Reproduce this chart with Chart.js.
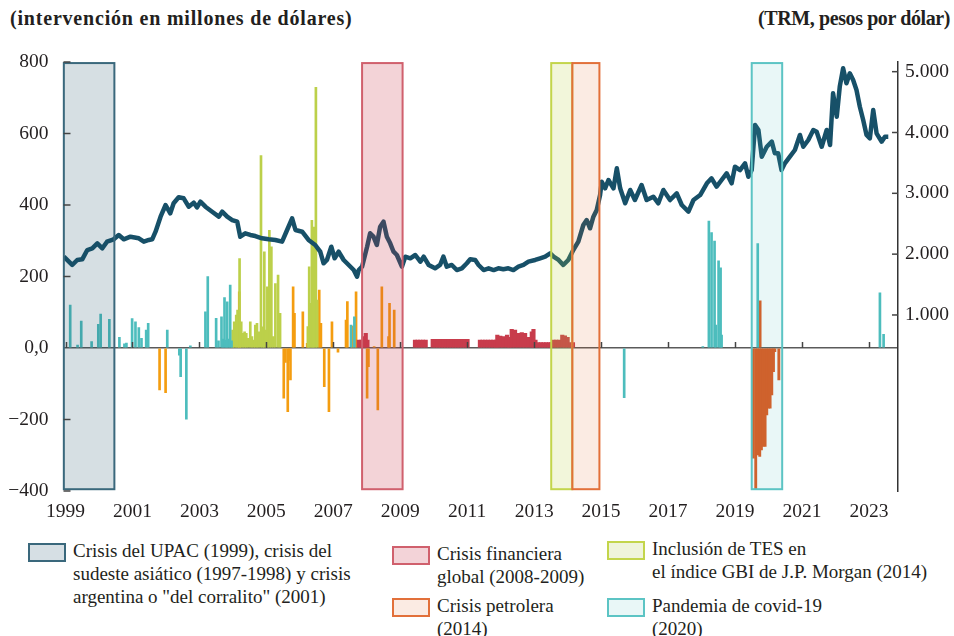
<!DOCTYPE html>
<html><head><meta charset="utf-8">
<script src="https://cdn.jsdelivr.net/npm/chart.js@4.4.0/dist/chart.umd.min.js"></script>
<style>
body{margin:0;background:#fff;width:954px;height:636px;overflow:hidden;position:relative;font-family:'Liberation Serif',serif;color:#231f20}
#c{position:absolute;left:0;top:0}
.t{position:absolute;font-weight:bold;font-size:20px;line-height:24px;white-space:nowrap}
.sw{position:absolute;width:34px;height:15px;border:2px solid}
.lt{position:absolute;font-size:19px;line-height:23px;white-space:pre}
</style></head><body>
<div class="t" style="left:10px;top:6px;letter-spacing:0.8px">(intervención en millones de dólares)</div>
<div class="t" style="right:4px;top:6px;letter-spacing:-0.4px">(TRM, pesos por dólar)</div>
<canvas id="c" width="954" height="530"></canvas>
<div id="legend"></div>
<script>
// ---------- DATA ----------
const xTickYears = [1999,2001,2003,2005,2007,2009,2011,2013,2015,2017,2019,2021,2023];
const leftTicks = [-400,-200,0,200,400,600,800];
const rightTicks = [1000,2000,3000,4000,5000];

// TRM (pesos por dólar)
const trmYears = [
1998.95,1999.20,1999.35,1999.50,1999.65,1999.80,1999.95,2000.10,2000.24,2000.44,2000.59,2000.74,2000.94,2001.19,2001.34,2001.49,2001.59,2001.69,2001.84,2001.99,
2002.13,2002.23,2002.38,2002.53,2002.68,2002.83,2002.93,2003.03,2003.18,2003.38,2003.58,2003.68,2003.83,2003.98,2004.13,2004.22,2004.37,2004.52,2004.67,2004.87,
2005.07,2005.27,2005.47,2005.62,2005.77,2005.87,2006.07,2006.26,2006.46,2006.61,2006.71,2006.81,2006.94,2007.04,2007.16,2007.31,2007.46,2007.61,2007.71,
2007.76,2007.86,2008.01,2008.10,2008.20,2008.30,2008.40,2008.50,2008.60,2008.70,2008.80,2008.90,2009.05,2009.15,2009.30,2009.45,2009.60,2009.70,2009.85,2010.04,
2010.19,2010.29,2010.39,2010.54,2010.69,2010.84,2010.99,2011.09,2011.24,2011.34,2011.49,2011.64,2011.79,2011.93,2012.08,2012.23,2012.38,2012.53,2012.68,2012.83,
2013.03,2013.18,2013.33,2013.48,2013.58,2013.73,2013.87,2014.02,2014.17,2014.32,2014.47,2014.57,2014.67,2014.77,2014.87,2014.97,2015.02,2015.12,2015.22,2015.37,
2015.47,2015.57,2015.72,2015.87,2016.01,2016.21,2016.36,2016.56,2016.71,2016.86,2017.06,2017.26,2017.41,2017.61,2017.76,2017.96,2018.16,2018.30,2018.45,2018.60,
2018.75,2018.90,2019.00,2019.15,2019.30,2019.40,2019.50,2019.60,2019.70,2019.80,2019.95,2020.10,2020.19,2020.29,2020.39,2020.49,2020.64,2020.79,2020.94,2021.04,
2021.19,2021.34,2021.44,2021.59,2021.74,2021.84,2021.93,2022.04,2022.13,2022.23,2022.33,2022.43,2022.53,2022.63,2022.73,2022.83,2022.93,2023.03,2023.13,2023.23,
2023.38,2023.48,2023.58];
const trmValues = [
1958,1822,1904,1915,2068,2096,2178,2096,2205,2244,2315,2244,2287,2261,2205,2233,2244,2369,2616,2808,
2672,2836,2935,2918,2780,2846,2770,2862,2780,2698,2616,2698,2616,2561,2533,2287,2343,2315,2298,2261,
2244,2233,2205,2397,2589,2397,2369,2233,2150,2040,1850,1904,2122,1932,2040,1904,1822,1739,1629,
1739,1794,2122,2343,2287,2150,2451,2533,2287,2178,2040,1986,1794,1958,1932,1986,1876,1958,1822,1767,
1822,1958,1794,1822,1739,1767,1850,1915,1904,1822,1739,1767,1739,1767,1751,1767,1739,1794,1822,1876,
1904,1932,1958,2014,1958,1904,1822,1904,2068,2205,2479,2561,2425,2616,2726,2972,3191,3082,3219,3082,
3411,3082,2836,3055,2890,3137,2890,2944,2836,3055,2890,3000,2808,2698,2890,2972,3165,3247,3109,3219,
3329,3165,3438,3383,3493,3273,3383,4123,4041,3602,3766,3849,3658,3658,3383,3493,3602,3712,3959,3766,
3877,4041,4013,3766,4041,3794,4644,4260,4753,5055,4809,4973,4863,4698,4424,4205,3959,3904,4370,3987,
3849,3931,3931];

// Intervention (millones de dólares)
const tealYears = [1999.14,1999.36,1999.47,1999.78,1999.98,2000.05,2000.31,2000.61,2000.76,2000.82,2000.99,2001.09,2001.19,2001.27,2001.41,2001.47,2002.04,
2002.40,2002.44,2002.61,2002.73,2003.18,2003.25,2003.50,2003.57,2003.66,2003.70,2003.75,2003.79,2003.83,2003.87,2003.92,2003.96,
2007.53,2007.63,2015.69,2018.04,2018.22,2018.30,2018.39,2018.43,2018.51,2018.57,2018.60,2019.68,2023.33,2023.44];
const tealValues = [120,8,75,18,66,95,80,30,12,14,82,73,57,27,50,69,50,
-20,-80,-199,6,101,200,83,20,87,25,141,22,129,25,176,20,
64,87,-139,4,355,323,299,64,244,224,36,292,154,38];

const greenYears = [2003.99,2004.04,2004.10,2004.14,2004.20,2004.25,2004.30,2004.35,2004.40,2004.45,2004.52,2004.57,2004.62,2004.67,2004.72,2004.77,2004.84,2004.89,2004.94,2004.99,
2005.03,2005.09,2005.15,2005.21,2005.27,2005.35,2005.41,
2006.24,2006.28,2006.32,2006.36,2006.40,2006.43,2006.48,2006.52];
const greenValues = [50,73,92,106,250,73,41,45,41,27,73,32,22,64,69,45,538,59,269,50,
171,329,283,32,180,204,97,
60,227,125,357,170,338,729,134];

const orangeYears = [2001.81,2001.99,2004.19,2005.52,2005.57,2005.64,2005.69,2005.72,2005.80,2005.84,2006.09,2006.22,2006.58,2006.63,2006.73,2006.87,2006.96,
2007.14,2007.38,2007.42,2007.57,2007.68,2008.01,2008.05,2008.22,2008.33,2008.45,2008.65,2008.68,2008.82];
const orangeValues = [-117,-125,157,-140,-40,-178,-35,-89,171,97,101,13,162,69,-108,-178,73,
-12,78,130,61,157,-140,-52,4,-173,171,32,125,106];

const crimsonYears = [2007.76,2007.84,2007.91,2007.97,2008.02,
2009.44,2009.52,2009.60,2009.68,2009.76,
2009.97,2010.05,2010.13,2010.21,2010.29,2010.37,2010.45,2010.53,2010.61,2010.69,2010.77,2010.85,2010.93,2011.01,
2011.38,2011.46,2011.54,2011.62,2011.70,2011.78,2011.86,
2011.90,2011.99,2012.08,2012.19,2012.26,2012.33,2012.43,2012.53,2012.63,2012.73,2012.83,2012.93,2012.98,2013.04,
2013.12,2013.20,2013.28,2013.36,2013.44,2013.51,
2013.58,2013.66,2013.74,2013.84,2013.92,2014.00,2014.08,2014.16];
const crimsonValues = [22,22,32,41,22,
22,22,22,22,22,
24,24,24,24,24,24,24,24,24,24,24,24,24,24,
22,22,22,22,22,22,22,
36,33,32,36,30,52,50,41,43,41,30,45,52,22,
15,15,15,15,15,15,
22,22,22,36,34,30,15,15];

const covidYears = [2019.55,2019.62,2019.68,2019.74,2019.75,2019.79,2019.84,2019.90,2019.95,2020.00,2020.05,2020.10,2020.15,2020.19,2020.31];
const covidValues = [-308,-396,-299,-303,132,-285,-275,-275,-187,-168,-168,-131,-66,-10,-89];

// Crisis periods
const crisisLabels = ['Crisis del UPAC (1999), crisis del\nsudeste asiático (1997-1998) y crisis\nargentina o "del corralito" (2001)',
  'Crisis financiera\nglobal (2008-2009)',
  'Inclusión de TES en\nel índice GBI de J.P. Morgan (2014)',
  'Crisis petrolera\n(2014)',
  'Pandemia de covid-19\n(2020)'];
const crisisStart = [1998.95, 2007.86, 2013.51, 2014.14, 2019.50];
const crisisEnd   = [2000.46, 2009.07, 2014.14, 2014.95, 2020.41];

// ---------- STYLES ----------
const crisisFill   = ['rgba(29,79,99,0.18)','rgba(200,55,74,0.22)','rgba(185,207,60,0.19)','rgba(224,101,42,0.13)','rgba(75,191,191,0.12)'];
const crisisSwatch = ['#d6dfe4','#f3d3d8','#eff4da','#fbebe3','#e9f7f7'];
const crisisBorder = ['#3a687c','#d0606d','#c3d54b','#e2703a','#5cc4c4'];
const legendPos = [[28,543],[392,546],[607,541],[392,598],[607,598]];

const toXY = (xs, ys) => xs.map((x, i) => ({x, y: ys[i]}));

function barSet(xs, ys, color, thick) {
  return {type:'bar', data: toXY(xs, ys), backgroundColor: color, borderWidth: 0,
          barThickness: thick, grouped: false, yAxisID: 'y', order: 2};
}

const overlay = {
  id: 'overlay',
  afterDatasetsDraw(chart) {
    const {ctx, chartArea, scales} = chart;
    const x = scales.x, y = scales.y, y2 = scales.y2;
    ctx.save();
    const yt = y.getPixelForValue(797), yb = y.getPixelForValue(-395);
    crisisStart.forEach((s, i) => {
      const x0 = x.getPixelForValue(s), x1 = x.getPixelForValue(crisisEnd[i]);
      ctx.fillStyle = crisisFill[i];
      ctx.fillRect(x0, yt, x1 - x0, yb - yt);
      ctx.strokeStyle = crisisBorder[i];
      ctx.lineWidth = 2;
      ctx.strokeRect(x0, yt, x1 - x0, yb - yt);
    });
    ctx.strokeStyle = '#444';
    ctx.lineWidth = 1.5;
    const y0 = y.getPixelForValue(0);
    x.ticks.forEach(t => {
      const px = Math.round(x.getPixelForValue(t.value)) + 0.5;
      ctx.beginPath(); ctx.moveTo(px, y0); ctx.lineTo(px, y0 - 6); ctx.stroke();
    });
    y.ticks.forEach(t => {
      const py = y.getPixelForValue(t.value);
      if (t.value === 0) return;
      ctx.beginPath(); ctx.moveTo(chartArea.left, py); ctx.lineTo(chartArea.left + 7, py); ctx.stroke();
    });
    y2.ticks.forEach(t => {
      const py = y2.getPixelForValue(t.value);
      ctx.beginPath(); ctx.moveTo(chartArea.right - 6, py); ctx.lineTo(chartArea.right, py); ctx.stroke();
    });
    ctx.restore();
  }
};

Chart.defaults.font.family = "'Liberation Serif', serif";
Chart.defaults.font.size = 19.5;
Chart.defaults.color = '#231f20';

new Chart(document.getElementById('c'), {
  data: {
    datasets: [
      {type:'line', data: toXY(trmYears, trmValues), yAxisID:'y2', borderColor:'#175068', borderWidth:4.5,
       pointRadius:0, tension:0, order:0, borderJoinStyle:'round'},
      barSet(crimsonYears, crimsonValues, '#c83c4c', 3.5),
      barSet(tealYears, tealValues, '#4dbdbd', 2),
      barSet(greenYears, greenValues, '#bcd04a', 2),
      barSet(orangeYears, orangeValues, '#f49d10', 2),
      barSet(covidYears, covidValues, '#e2561a', 2.2)
    ]
  },
  options: {
    responsive: false, animation: false, devicePixelRatio: 1,
    layout: {padding: {top: 62, left: 0, right: 0, bottom: 0}},
    plugins: {legend: {display: false}, tooltip: {enabled: false}},
    scales: {
      x: {type:'linear', min: 1998.94, max: 2023.87, offset: false,
          afterBuildTicks: s => { s.ticks = xTickYears.map(v => ({value: v})); },
          afterFit: s => { s.height = 39; },
          grid: {display: false, drawTicks: false}, border: {display: false},
          ticks: {padding: 9, maxRotation: 0, autoSkip: false, callback: v => String(v)}},
      y: {position:'left', min: -400, max: 800,
          afterBuildTicks: s => { s.ticks = leftTicks.map(v => ({value: v})); },
          afterFit: s => { s.width = 63.5; },
          grid: {drawTicks: false, color: c => (c.tick && c.tick.value === 0) ? '#5a5a5a' : 'rgba(0,0,0,0)', lineWidth: 1.5},
          border: {display: false},
          ticks: {padding: 15, callback: v => v === 0 ? '0,0' : (v < 0 ? '\u2212' + Math.abs(v) : String(v))}},
      y2: {position:'right', min: -1894, max: 5159,
          afterBuildTicks: s => { s.ticks = rightTicks.map(v => ({value: v})); },
          afterFit: s => { s.width = 56; },
          grid: {display: false, drawTicks: false},
          border: {display: true, color: '#333', width: 1.5},
          ticks: {padding: 7, callback: v => (v / 1000) + '.000'}}
    }
  },
  plugins: [overlay]
});

// Legend
const lg = document.getElementById('legend');
crisisLabels.forEach((lab, i) => {
  const [lx, ly] = legendPos[i];
  const sw = document.createElement('div');
  sw.className = 'sw';
  sw.style.left = lx + 'px'; sw.style.top = ly + 'px';
  sw.style.background = crisisSwatch[i]; sw.style.borderColor = crisisBorder[i];
  lg.appendChild(sw);
  const tx = document.createElement('div');
  tx.className = 'lt';
  tx.style.left = (lx + 45) + 'px'; tx.style.top = (ly - 4) + 'px';
  tx.textContent = lab;
  lg.appendChild(tx);
});
</script>
</body></html>
